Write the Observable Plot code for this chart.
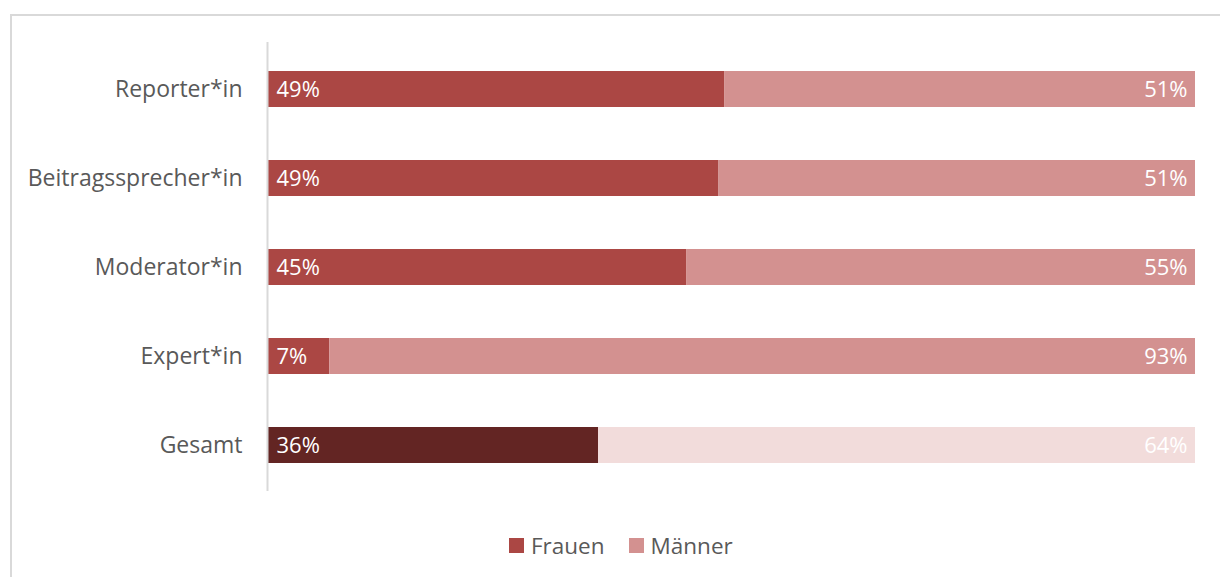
<!DOCTYPE html>
<html>
<head>
<meta charset="utf-8">
<script src="https://cdn.jsdelivr.net/npm/d3@7"></script>
<script src="https://cdn.jsdelivr.net/npm/@observablehq/plot@0.6"></script>
<style>
  html, body { margin: 0; padding: 0; background: #fff; }
  body { width: 1220px; height: 577px; position: relative; overflow: hidden; font-family: "Open Sans", sans-serif; }
  #frame { position: absolute; left: 10px; top: 14px; width: 1300px; height: 700px; border-top: 2px solid #D9D9D9; border-left: 2px solid #D9D9D9; box-sizing: border-box; }
  #chart { position: absolute; left: 0; top: 0; }
  #legend { position: absolute; left: 509px; top: 530px; display: flex; align-items: center; font-size: 22.5px; color: #595959; }
  #legend .item { display: flex; align-items: center; margin-right: 24px; }
  #legend .sw { width: 15px; height: 15px; margin-right: 7px; }
</style>
</head>
<body>
<div id="frame"></div>
<div id="chart"></div>
<div id="legend"></div>
<script>
const categories = ["Reporter*in", "Beitragssprecher*in", "Moderator*in", "Expert*in", "Gesamt"];
const frauen = [49.2, 48.6, 45.1, 6.6, 35.6];
const maenner = [50.8, 51.4, 54.9, 93.4, 64.4];
const series = ["Frauen", "Männer"];
const colors = {Frauen: "#AB4744", "Männer": "#D39190", "Frauen Gesamt": "#632523", "Männer Gesamt": "#F2DCDB"};

const rows = [];
categories.forEach((c, i) => {
  rows.push({cat: c, series: "Frauen", value: frauen[i], x1: 0, x2: frauen[i]});
  rows.push({cat: c, series: "Männer", value: maenner[i], x1: frauen[i], x2: frauen[i] + maenner[i]});
});
const keyOf = d => d.cat === "Gesamt" ? d.series + " Gesamt" : d.series;

const plot = Plot.plot({
  width: 1220,
  height: 510,
  marginLeft: 268,
  marginRight: 25,
  marginTop: 42,
  marginBottom: 19,
  x: {domain: [0, 100], axis: null},
  y: {domain: categories, paddingInner: 0.6, paddingOuter: 0.3, label: null},
  color: {domain: Object.keys(colors), range: Object.values(colors)},
  style: {fontFamily: "Open Sans, sans-serif", color: "#595959", overflow: "visible"},
  marks: [
    Plot.barX(rows, {y: "cat", x1: "x1", x2: "x2", fill: keyOf}),
    Plot.ruleX([0], {stroke: "#D9D9D9", strokeWidth: 2, dx: -1}),
    Plot.axisY({tickSize: 0, tickPadding: 26, fontSize: 23, fill: "#595959", label: null}),
    Plot.text(rows.filter(d => d.series === "Frauen"), {y: "cat", x: "x1", text: d => Math.round(d.value) + "%", textAnchor: "start", dx: 8, fill: "white", fontSize: 22}),
    Plot.text(rows.filter(d => d.series === "Männer"), {y: "cat", x: "x2", text: d => Math.round(d.value) + "%", textAnchor: "end", dx: -8, fill: "white", fontSize: 22})
  ]
});
document.getElementById("chart").appendChild(plot);

const legend = document.getElementById("legend");
series.forEach(s => {
  const item = document.createElement("div");
  item.className = "item";
  const sw = document.createElement("div");
  sw.className = "sw";
  sw.style.background = colors[s];
  const lab = document.createElement("span");
  lab.textContent = s;
  item.appendChild(sw);
  item.appendChild(lab);
  legend.appendChild(item);
});
</script>
</body>
</html>
